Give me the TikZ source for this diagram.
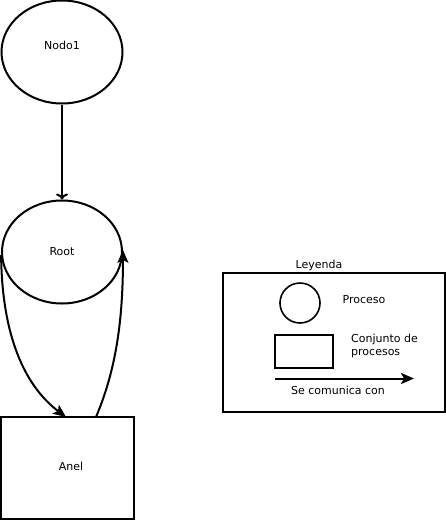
\documentclass[tikz,border=0pt]{standalone}
\usepackage{fontspec}
\setmainfont{DejaVu Sans}
\usetikzlibrary{shapes.geometric,arrows.meta}
\begin{document}
\begin{tikzpicture}[x=1pt,y=-1pt,
  every node/.style={font=\fontsize{11}{13}\selectfont},
  proc/.style={draw,ellipse,line width=2pt,inner sep=0pt},
  grp/.style={draw,rectangle,line width=2pt,inner sep=0pt},
  txt/.style={inner sep=0pt},
  link/.style={line width=2pt,-{Stealth[length=13pt,width=11pt,inset=3pt]}},
  openlink/.style={line width=2pt,-{To[length=6pt,width=12pt]}}]
\useasboundingbox (0,0) rectangle (446,520);

% processes and process group
\node[proc,minimum width=121pt,minimum height=103pt] (nodo1) at (62,52) {};
\node[txt] (nodo1lbl) at (62,45) {Nodo1};
\node[proc,minimum width=120pt,minimum height=103pt] (root) at (62,252) {};
\node[txt] (rootlbl) at (62,252) {Root};
\node[grp,minimum width=133pt,minimum height=102pt] (anel) at (67.5,468) {};
\node[txt] (anellbl) at (71,466) {Anel};

% communication links
\draw[openlink] (nodo1.south) -- (root.north);
\coordinate (ain) at (66,417);
\coordinate (aout) at (96,417);
\draw[link] (root.183) .. controls (2,345) and (30,390) .. (ain);
\draw[link] (aout) .. controls (116,370) and (123,320) .. (root.2);

% legend
\node[grp,minimum width=222pt,minimum height=139pt] (leg) at (334,342.5) {};
\node[txt] (legtitle) at (319,265) {Leyenda};
\node[draw,circle,line width=1.6pt,minimum size=40pt,inner sep=0pt] (legcirc) at (300,303) {};
\node[txt] (legproc) at (364,300) {Proceso};
\node[grp,line width=1.6pt,minimum width=58pt,minimum height=33pt] (legbox) at (304,351.5) {};
\node[txt,anchor=north west,align=left] (leggrp) at (351,333.5) {Conjunto de\\procesos};
\coordinate (legfrom) at (275,378.5);
\coordinate (legto) at (414,378.5);
\draw[link] (legfrom) -- (legto);
\node[txt] (leglink) at (338,390) {Se comunica con};
\end{tikzpicture}
\end{document}
